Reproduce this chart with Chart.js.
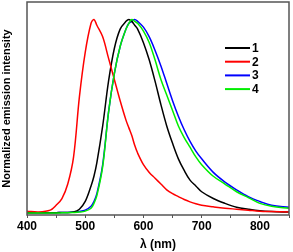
<!DOCTYPE html>
<html>
<head>
<meta charset="utf-8">
<script src="https://cdn.jsdelivr.net/npm/chart.js@4/dist/chart.umd.min.js"></script>
<style>
html,body{margin:0;padding:0;background:#fff;}
#wrap{width:293px;height:252px;position:relative;}
</style>
</head>
<body>
<div id="wrap"><canvas id="c" width="293" height="252"></canvas></div>
<script>
const wavelengths = [400,420,440,450,460,470,480,490,500,510,515,520,530,540,550,560,570,575,580,585,590,600,610,620,630,640,650,660,670,680,690,700,720,740,760,780,800,820,850];
const series1 = [0.002,0.002,0.002,0.002,0.003,0.003,0.005,0.02,0.06,0.14,0.19,0.26,0.45,0.68,0.85,0.95,0.99,1.0,0.99,0.97,0.95,0.88,0.79,0.68,0.56,0.45,0.36,0.28,0.22,0.17,0.14,0.11,0.075,0.05,0.03,0.02,0.012,0.008,0.005];
const series2 = [0.01,0.006,0.015,0.04,0.075,0.15,0.29,0.6,0.83,0.98,1.0,0.97,0.91,0.80,0.69,0.58,0.48,0.44,0.40,0.35,0.31,0.25,0.21,0.18,0.15,0.12,0.10,0.085,0.07,0.058,0.048,0.04,0.032,0.025,0.02,0.015,0.01,0.008,0.005];
const series3 = [0.002,0.002,0.002,0.002,0.003,0.003,0.005,0.008,0.015,0.035,0.06,0.1,0.25,0.52,0.72,0.86,0.95,0.98,0.99,1.0,0.99,0.96,0.91,0.84,0.76,0.67,0.58,0.5,0.43,0.37,0.32,0.28,0.21,0.16,0.12,0.085,0.06,0.04,0.03];
const series4 = [0.0,0.0,0.0,0.0,0.001,0.002,0.003,0.005,0.01,0.025,0.05,0.09,0.24,0.52,0.72,0.86,0.95,0.98,1.0,0.99,0.98,0.94,0.88,0.79,0.69,0.61,0.53,0.45,0.39,0.34,0.29,0.25,0.19,0.15,0.11,0.08,0.05,0.035,0.025];
const seriesLabels = ['1','2','3','4'];
const seriesColors = ['#000000','#ff0000','#0000ff','#00ee00'];
const xTickValues = [400,500,600,700,800];

const toPts = arr => arr.map((v,i)=>({x:wavelengths[i], y:v}));
const allSeries = [series1, series2, series3, series4];
const drawOrder = [2,1,3,0];

const datasets = allSeries.map((s,i)=>({
  label: seriesLabels[i],
  data: toPts(s),
  borderColor: seriesColors[i],
  borderWidth: 1.5,
  pointRadius: 0,
  tension: 0.35,
  fill: false,
  order: drawOrder[i]
}));

const framePlugin = {
  id:'frame',
  afterDatasetsDraw(chart){
    const {ctx, chartArea:a} = chart;
    ctx.save();
    ctx.strokeStyle = '#555';
    ctx.lineWidth = 1.5;
    ctx.strokeRect(a.left, a.top, a.right-a.left, a.bottom-a.top);
    // legend
    ctx.font = 'bold 12px "Liberation Sans", Arial, sans-serif';
    ctx.textBaseline = 'middle';
    chart.data.datasets.forEach((d,i)=>{
      const y = 48 + i*13.7;
      ctx.strokeStyle = d.borderColor;
      ctx.lineWidth = 2;
      ctx.beginPath();
      ctx.moveTo(225, y);
      ctx.lineTo(250, y);
      ctx.stroke();
      ctx.fillStyle = '#000';
      ctx.fillText(d.label, 252, y+0.5);
    });
    ctx.restore();
  }
};

new Chart(document.getElementById('c'), {
  type:'line',
  data:{datasets},
  options:{
    responsive:false,
    animation:false,
    devicePixelRatio:1,
    layout:{padding:{top:2,right:4,left:0,bottom:0}},
    plugins:{legend:{display:false}, tooltip:{enabled:false}},
    scales:{
      x:{
        type:'linear', min:400, max:850,
        afterBuildTicks(scale){
          const t=[]; for(let v=400; v<=850; v+=50) t.push({value:v});
          scale.ticks=t;
        },
        ticks:{
          autoSkip:false, maxRotation:0, padding:1,
          color:'#000',
          font:{family:'"Liberation Sans", Arial, sans-serif', size:12, weight:'bold'},
          callback:(v)=> xTickValues.includes(v) ? String(v) : ''
        },
        grid:{drawOnChartArea:false, drawTicks:true, tickLength:3, color:'#555', lineWidth:1},
        border:{display:false},
        title:{display:true, text:'λ (nm)', color:'#000', padding:{top:2,bottom:0},
          font:{family:'"Liberation Sans", Arial, sans-serif', size:12, weight:'bold'}},
        afterFit(scale){ scale.height = 37; }
      },
      y:{
        min:-0.01, max:1.09,
        ticks:{display:false},
        grid:{display:false},
        border:{display:false},
        title:{display:true, text:'Normalized emission intensity', color:'#000', padding:{top:0,bottom:4},
          font:{family:'"Liberation Sans", Arial, sans-serif', size:11, weight:'bold'}},
        afterFit(scale){ scale.width = 27; }
      }
    }
  },
  plugins:[framePlugin]
});
</script>
</body>
</html>
